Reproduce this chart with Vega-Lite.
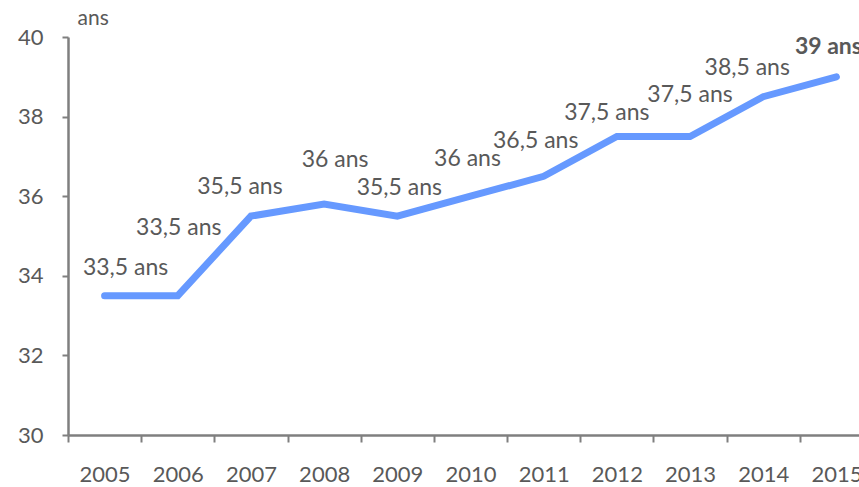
{
  "$schema": "https://vega.github.io/schema/vega-lite/v6.json",
  "autosize": {"type": "none"},
  "padding": {"left": 68, "top": 37, "right": 0, "bottom": 52},
  "width": 805,
  "height": 398,
  "background": "white",
  "config": {
    "view": {"stroke": null},
    "font": "Lato",
    "text": {"font": "Lato", "fontSize": 23, "color": "#595959", "align": "center", "baseline": "middle"}
  },
  "data": {
    "values": [
      {"year": "2005", "age": 33.5, "label": "33,5 ans"},
      {"year": "2006", "age": 33.5, "label": "33,5 ans"},
      {"year": "2007", "age": 35.5, "label": "35,5 ans"},
      {"year": "2008", "age": 35.8, "label": "36 ans"},
      {"year": "2009", "age": 35.5, "label": "35,5 ans"},
      {"year": "2010", "age": 36.0, "label": "36 ans"},
      {"year": "2011", "age": 36.5, "label": "36,5 ans"},
      {"year": "2012", "age": 37.5, "label": "37,5 ans"},
      {"year": "2013", "age": 37.5, "label": "37,5 ans"},
      {"year": "2014", "age": 38.5, "label": "38,5 ans"},
      {"year": "2015", "age": 39.0, "label": "39 ans"}
    ]
  },
  "encoding": {
    "x": {
      "field": "year", "type": "ordinal",
      "scale": {"type": "band", "paddingInner": 0, "paddingOuter": 0},
      "axis": {
        "title": null, "labelAngle": 0, "tickBand": "extent",
        "domainColor": "#7f7f7f", "domainWidth": 2.5, "tickColor": "#7f7f7f", "tickWidth": 2, "tickSize": 7,
        "labelColor": "#595959", "labelFont": "Lato", "labelFontSize": 22, "labelPadding": 22, "grid": false
      }
    },
    "y": {
      "field": "age", "type": "quantitative",
      "scale": {"domain": [30, 40], "nice": false, "zero": false},
      "axis": {
        "values": [30, 32, 34, 36, 38, 40], "grid": false,
        "domainColor": "#7f7f7f", "domainWidth": 2.5, "tickColor": "#7f7f7f", "tickWidth": 2, "tickSize": 6,
        "labelColor": "#595959", "labelFont": "Lato", "labelFontSize": 22, "labelPadding": 19,
        "title": "ans", "titleAngle": 0, "titleAlign": "left", "titleBaseline": "middle",
        "titleX": 9, "titleY": -19, "titleFont": "Lato", "titleFontSize": 21, "titleFontWeight": "normal", "titleColor": "#595959"
      }
    }
  },
  "layer": [
    {"mark": {"type": "line", "color": "#6699FF", "strokeWidth": 7, "strokeCap": "round", "strokeJoin": "miter", "clip": false}},
    {"transform": [{"filter": "datum.year == '2005'"}], "mark": {"type": "text", "dx": 21, "dy": -28}, "encoding": {"text": {"field": "label"}}},
    {"transform": [{"filter": "datum.year == '2006'"}], "mark": {"type": "text", "dx": 1, "dy": -68}, "encoding": {"text": {"field": "label"}}},
    {"transform": [{"filter": "datum.year == '2007'"}], "mark": {"type": "text", "dx": -11, "dy": -29}, "encoding": {"text": {"field": "label"}}},
    {"transform": [{"filter": "datum.year == '2008'"}], "mark": {"type": "text", "dx": 11, "dy": -44}, "encoding": {"text": {"field": "label"}}},
    {"transform": [{"filter": "datum.year == '2009'"}], "mark": {"type": "text", "dx": 2, "dy": -28}, "encoding": {"text": {"field": "label"}}},
    {"transform": [{"filter": "datum.year == '2010'"}], "mark": {"type": "text", "dx": -3, "dy": -37}, "encoding": {"text": {"field": "label"}}},
    {"transform": [{"filter": "datum.year == '2011'"}], "mark": {"type": "text", "dx": -8, "dy": -35}, "encoding": {"text": {"field": "label"}}},
    {"transform": [{"filter": "datum.year == '2012'"}], "mark": {"type": "text", "dx": -10, "dy": -24}, "encoding": {"text": {"field": "label"}}},
    {"transform": [{"filter": "datum.year == '2013'"}], "mark": {"type": "text", "dx": 0, "dy": -42}, "encoding": {"text": {"field": "label"}}},
    {"transform": [{"filter": "datum.year == '2014'"}], "mark": {"type": "text", "dx": -16, "dy": -29}, "encoding": {"text": {"field": "label"}}},
    {"transform": [{"filter": "datum.year == '2015'"}], "mark": {"type": "text", "dx": -8, "dy": -30, "fontWeight": "bold"}, "encoding": {"text": {"field": "label"}}}
  ]
}
